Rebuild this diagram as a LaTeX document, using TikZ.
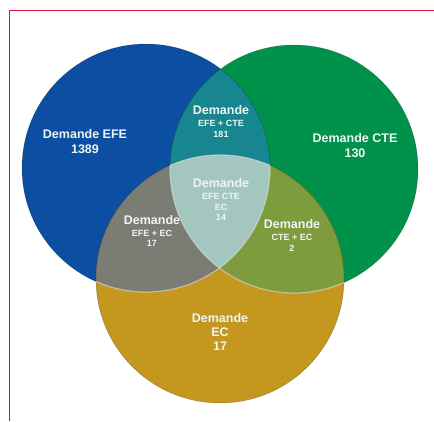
\documentclass[tikz,border=0pt]{standalone}
\usepackage{fontspec}
\setmainfont{Liberation Sans}
\usepackage{tikz}
\usetikzlibrary{positioning}

\definecolor{efeblue}{HTML}{0B4EA2}
\definecolor{ctegreen}{HTML}{00924A}
\definecolor{ecgold}{HTML}{C4981F}
\definecolor{efecte}{HTML}{17868F}
\definecolor{efeec}{HTML}{7B7C74}
\definecolor{cteec}{HTML}{7E9B3D}
\definecolor{allthree}{HTML}{A3C6BF}
\definecolor{framered}{HTML}{E0103A}
\definecolor{labelwhite}{HTML}{EEF6F4}

\tikzset{
  bigtxt/.style={text=labelwhite, font=\bfseries\fontsize{12.5}{15}\selectfont, align=center, inner sep=0pt},
  smalltxt/.style={text=labelwhite, font=\bfseries\fontsize{9}{11}\selectfont, align=center, inner sep=0pt},
  rim/.style={draw=black, draw opacity=0.25, line width=0.5pt}
}

\begin{document}
\begin{tikzpicture}[x=1pt, y=-1pt]
        \useasboundingbox (0,0) rectangle (434,421);
        \fill[white] (0,0) rectangle (434,421);

        % cadre
        \draw[framered, line width=1pt] (9.5,421) -- (9.5,10) -- (434,10);

        % centres des cercles
        \coordinate (cefe) at (146,168);
        \coordinate (ccte) at (294,169);
        \coordinate (cec) at (220,279);

        % cercles
        \fill[efeblue] (cefe) circle[radius=124pt];
        \fill[ctegreen] (ccte) circle[radius=124pt];
        \fill[ecgold] (cec) circle[radius=124pt];

        % intersections deux a deux
        \begin{scope}
            \clip (cefe) circle[radius=124pt];
            \fill[efecte] (ccte) circle[radius=124pt];
            \fill[efeec] (cec) circle[radius=124pt];
        \end{scope}
        \begin{scope}
            \clip (ccte) circle[radius=124pt];
            \fill[cteec] (cec) circle[radius=124pt];
        \end{scope}

        % intersection des trois
        \begin{scope}
            \clip (cefe) circle[radius=124pt];
            \clip (ccte) circle[radius=124pt];
            \fill[allthree] (cec) circle[radius=124pt];
        \end{scope}

        % contours
        \draw[rim] (cefe) circle[radius=124pt];
        \draw[rim] (ccte) circle[radius=124pt];
        \draw[rim] (cec) circle[radius=124pt];
        \begin{scope}
            \clip (cefe) circle[radius=124pt];
            \clip (ccte) circle[radius=124pt];
            \draw[white, opacity=0.5, line width=1.2pt] (cec) circle[radius=124pt];
        \end{scope}
        \begin{scope}
            \clip (cec) circle[radius=124pt];
            \draw[white, opacity=0.5, line width=1.2pt] (cefe) circle[radius=124pt];
            \draw[white, opacity=0.5, line width=1.2pt] (ccte) circle[radius=124pt];
        \end{scope}

        % textes
        \node[bigtxt] (efe) at (85,134) {Demande EFE};
        \node[bigtxt, below=6pt of efe] (efenb) {1389};
        \node[bigtxt] (cte) at (355,138) {Demande CTE};
        \node[bigtxt, below=6pt of cte] (ctenb) {130};

        \node[bigtxt] (efecteT) at (221,110) {Demande};
        \node[smalltxt, below=5pt of efecteT] (efecteS) {EFE + CTE};
        \node[smalltxt, below=4pt of efecteS] (efecteN) {181};

        \node[bigtxt] (tousT) at (221,183) {Demande};
        \node[smalltxt, below=5pt of tousT] (tousS) {EFE CTE};
        \node[smalltxt, below=4pt of tousS] (tousE) {EC};
        \node[smalltxt, below=4pt of tousE] (tousN) {14};

        \node[bigtxt] (efeecT) at (152,220) {Demande};
        \node[smalltxt, below=5pt of efeecT] (efeecS) {EFE + EC};
        \node[smalltxt, below=4pt of efeecS] (efeecN) {17};

        \node[bigtxt] (cteecT) at (292,224) {Demande};
        \node[smalltxt, below=5pt of cteecT] (cteecS) {CTE + EC};
        \node[smalltxt, below=4pt of cteecS] (cteecN) {2};

        \node[bigtxt] (ecT) at (220,318) {Demande};
        \node[bigtxt, below=5pt of ecT] (ecS) {EC};
        \node[bigtxt, below=5pt of ecS] (ecN) {17};
    \end{tikzpicture}
\end{document}
